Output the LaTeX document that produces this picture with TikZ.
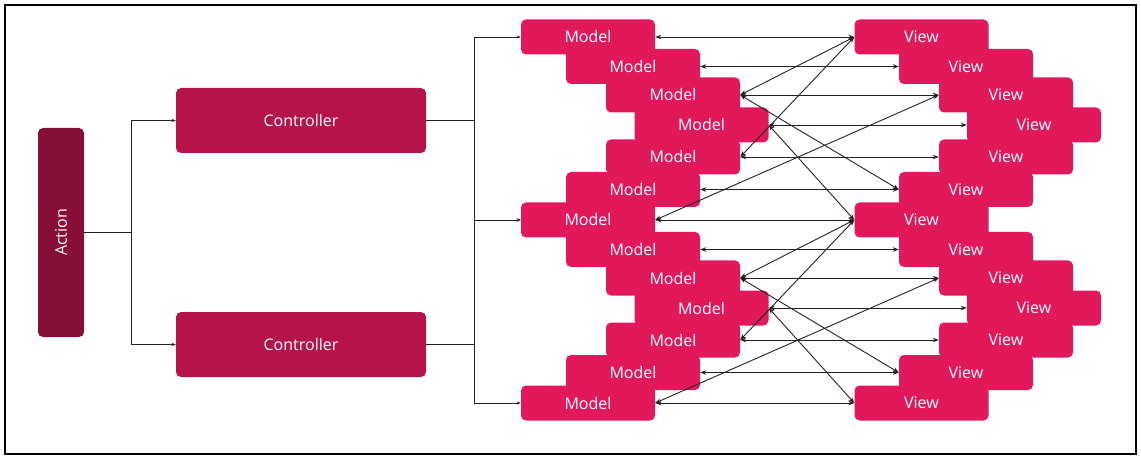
\documentclass[tikz,border=0pt]{standalone}
\usepackage{fontspec}
\setmainfont{Open Sans}
\usetikzlibrary{arrows.meta}
\definecolor{actc}{HTML}{870E36}
\definecolor{ctlc}{HTML}{B5144A}
\definecolor{mvc}{HTML}{E1195B}
\definecolor{linec}{HTML}{222222}
\begin{document}
\begin{tikzpicture}[x=1pt,y=-1pt,
  boxbase/.style={rounded corners=5pt, inner sep=0pt, text=white, font=\fontsize{16}{18}\selectfont},
  actbox/.style={boxbase, fill=actc, minimum width=46pt, minimum height=209pt},
  ctlbox/.style={boxbase, fill=ctlc, minimum width=250pt, minimum height=65pt},
  mvbox/.style={boxbase, fill=mvc, minimum width=134pt, minimum height=35pt},
  conn/.style={draw=linec, line width=0.9pt},
  smallarr/.style={conn, -{Stealth[length=4pt,width=3pt]}},
  dblarr/.style={conn, {Stealth[length=6pt,width=4.5pt]}-{Stealth[length=6pt,width=4.5pt]}}]
\useasboundingbox (0,0) rectangle (1141,457);
\draw[line width=2pt] (5,5) rectangle (1136,454);

\node[actbox] (act) at (61,232.5) {\rotatebox{90}{Action}};
\node[ctlbox] (c1) at (301,120.5) {Controller};
\node[ctlbox] (c2) at (301,344.5) {Controller};

\foreach \i/\mx/\vx/\y in {1/588/921.5/37, 2/633/966/66.5, 3/673/1006/95, 4/701.5/1034/125,
  5/673/1006/157, 6/633/966/189.5, 7/588/921.5/220, 8/633/966/249.5, 9/673/1006/278,
  10/701.5/1034/308, 11/673/1006/340, 12/633/966/372.5, 13/588/921.5/403}{
  \node[mvbox] (m\i) at (\mx,\y) {Model};
  \node[mvbox] (v\i) at (\vx,\y) {View};
}

% action to controllers
\coordinate (j1) at (131,232.5);
\draw[conn] (act.east) -- (j1);
\draw[smallarr] (j1) |- (c1.west);
\draw[smallarr] (j1) |- (c2.west);

% controllers to models
\coordinate (b1) at (474,120.5);
\coordinate (b2) at (474,344.5);
\draw[conn] (c1.east) -- (b1);
\draw[conn] (c2.east) -- (b2);
\draw[smallarr] (b1) |- (m1.west);
\draw[smallarr] (b1) |- (m7.west);
\draw[smallarr] (b2) |- (m7.west);
\draw[smallarr] (b2) |- (m13.west);

% model <-> view
\foreach \i in {1,...,13}{
  \draw[dblarr] (m\i.east) -- (v\i.west);
}
\foreach \k in {0,6}{
  \pgfmathtruncatemacro{\a}{1+\k}
  \pgfmathtruncatemacro{\b}{3+\k}
  \pgfmathtruncatemacro{\c}{4+\k}
  \pgfmathtruncatemacro{\d}{5+\k}
  \pgfmathtruncatemacro{\e}{6+\k}
  \pgfmathtruncatemacro{\f}{7+\k}
  \draw[dblarr] (v\a.west) -- (m\b.east);
  \draw[dblarr] (v\a.west) -- (m\d.east);
  \draw[dblarr] (m\b.east) -- (v\e.west);
  \draw[dblarr] (m\c.east) -- (v\f.west);
  \draw[dblarr] (m\f.east) -- (v\b.west);
}
\end{tikzpicture}
\end{document}
